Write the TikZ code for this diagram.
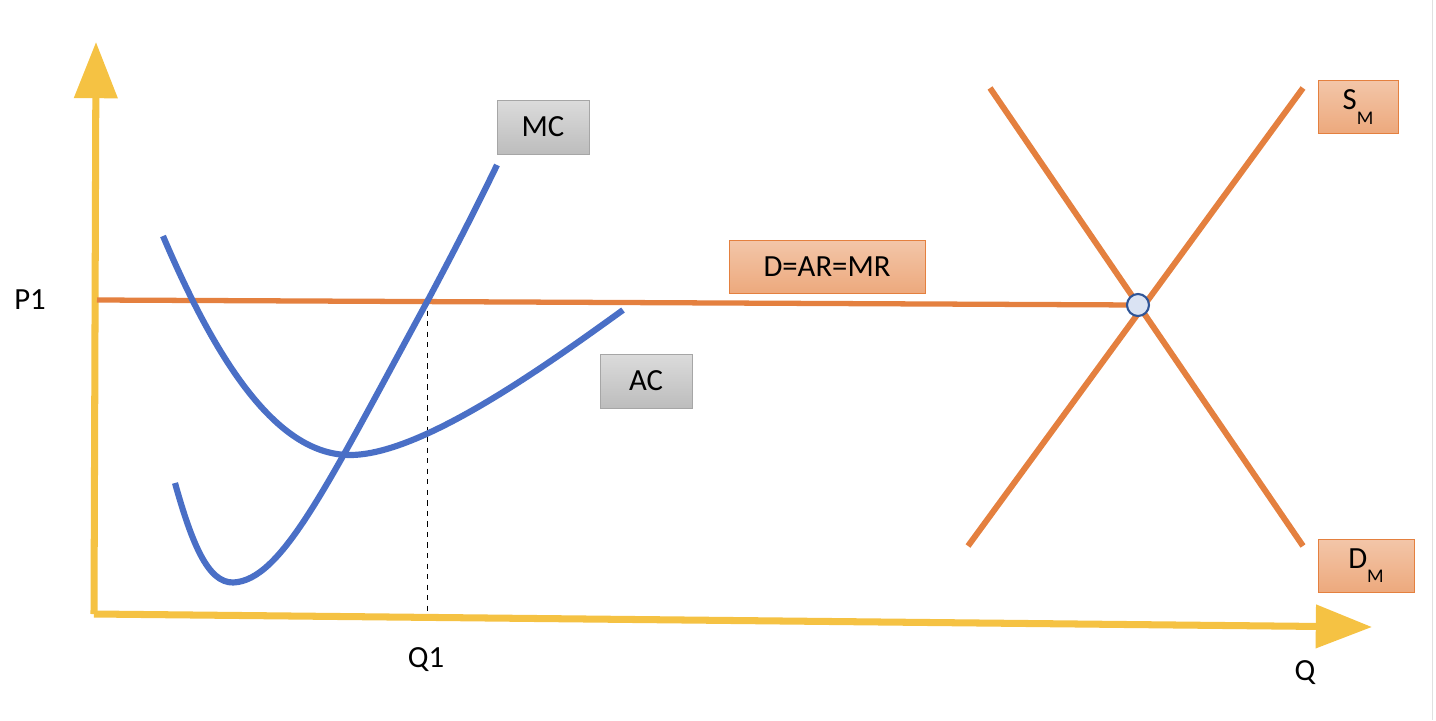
\documentclass[tikz,border=0pt]{standalone}
\usepackage{fontspec}
\setmainfont{Carlito}
\usetikzlibrary{arrows.meta}

\definecolor{axisyellow}{HTML}{F5C243}
\definecolor{mktorange}{HTML}{E4803F}
\definecolor{costblue}{HTML}{4A6FC6}
\definecolor{eqline}{HTML}{2F5597}
\definecolor{eqfill}{HTML}{DAE3F3}

\tikzset{
  axis/.style={axisyellow, line width=4pt, -{Triangle[length=32pt,width=24pt]}},
  costcurve/.style={costblue, line width=3.5pt},
  mktline/.style={mktorange, line width=3.4pt},
  greybox/.style={draw=black!35, top color=black!14, bottom color=black!26,
    minimum width=1.84cm, minimum height=1.08cm, inner sep=0pt},
  orangebox/.style={draw=mktorange, top color=mktorange!45, bottom color=mktorange!68,
    minimum height=1.07cm, inner sep=0pt},
  lbl/.style={font=\fontsize{17.5}{20}\selectfont}
}

\begin{document}
\begin{tikzpicture}[x=0.02cm, y=-0.02cm, lbl]
  \useasboundingbox (0,0) rectangle (1436,720);
  \draw[black!12] (1432,0) -- (1432,720);

  % axes
  \coordinate (origin) at (94,614);
  \coordinate (ytop) at (96,42);
  \coordinate (xend) at (1372,627);
  \draw[axis] (origin) -- (ytop);
  \draw[axis] (origin) -- (xend);
  \node (p1) at (30,300) {P1};
  \node (q1) at (426,660) {Q1};
  \node (q) at (1305,673) {Q};

  % market
  \coordinate (s0) at (968,546);
  \coordinate (s1) at (1303,88);
  \coordinate (d0) at (990,88);
  \coordinate (d1) at (1303,546);
  \coordinate (pstart) at (97,300);
  \draw[mktline] (s0) -- (s1);
  \draw[mktline] (d0) -- (d1);
  \draw[mktline, line width=3pt] (pstart) -- (1138,305);
  \node[circle, draw=eqline, fill=eqfill, line width=1.2pt, minimum size=0.44cm,
    inner sep=0pt] (eq) at (1138,305) {};

  % firm
  \coordinate (q1top) at (427,300);
  \coordinate (q1bot) at (427,613);
  \draw[dashed, thin] (q1top) -- (q1bot);
  \draw[costcurve] (175,483) .. controls (195,555) and (212,587) .. (238,582)
    .. controls (285,574) and (330,480) .. (428,300)
    .. controls (460,240) and (480,200) .. (497,165);
  \draw[costcurve] (163,236) .. controls (220,370) and (280,455) .. (350,455)
    .. controls (420,455) and (540,370) .. (623,310);

  % labels
  \node[greybox] (mc) at (543,127) {MC};
  \node[greybox] (ac) at (646,381) {AC};
  \node[orangebox, minimum width=3.92cm] (dar) at (827,267) {D=AR=MR};
  \node[orangebox, minimum width=1.6cm] (sm) at (1358,107)
    {S\raisebox{-8pt}{\fontsize{11}{12}\selectfont M}};
  \node[orangebox, minimum width=1.92cm] (dm) at (1366,566)
    {D\raisebox{-8pt}{\fontsize{11}{12}\selectfont M}};
\end{tikzpicture}
\end{document}
